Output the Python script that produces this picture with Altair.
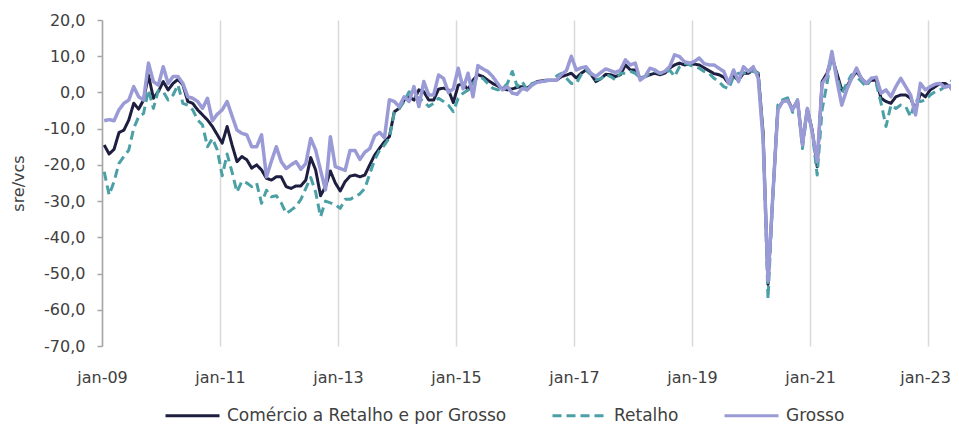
import altair as alt
import pandas as pd

# Monthly series, jan-09 .. jul-23 (sre/vcs)
comercio = [
    -14.5, -17.0, -15.7, -11.1, -10.4, -7.6, -3.0, -4.6, -2.1, 4.8, -1.6, 0.2,
    3.0, 0.7, 2.5, 3.6, 2.1, -2.5, -3.0, -4.8, -6.2, -7.6, -9.4, -11.7,
    -14.0, -9.4, -14.5, -19.1, -17.7, -18.6, -20.9, -20.0, -21.4, -23.7, -24.2, -23.3,
    -23.3, -26.0, -26.5, -25.8, -25.8, -24.2, -18.0, -21.4, -28.5, -26.0, -21.7, -25.0,
    -27.2, -24.6, -23.1, -22.8, -23.3, -22.8, -20.0, -17.3, -15.4, -13.6, -12.2, -5.3,
    -4.4, -2.1, -1.2, -2.1, 0.7, 0.2, -2.1, -2.1, 0.9, 1.2, 0.7, -2.8,
    2.0, 2.5, 0.7, 3.4, 4.9, 4.4, 3.4, 2.5, 1.8, 1.1, 0.7, 1.0,
    1.4, 1.6, 1.2, 2.1, 3.0, 3.2, 3.4, 3.4, 3.4, 4.4, 4.8, 5.3,
    4.0, 5.3, 6.2, 5.0, 3.0, 3.8, 5.0, 4.9, 4.4, 4.9, 7.6, 6.2,
    6.2, 3.9, 4.4, 4.9, 5.3, 4.9, 5.3, 6.7, 7.6, 8.1, 7.6, 7.8,
    7.8, 7.6, 6.8, 6.0, 5.2, 4.9, 4.2, 2.5, 4.4, 3.4, 5.3, 5.3,
    6.2, 5.3, -11.0, -53.0, -28.0, -4.5, -2.5, -2.0, -4.6, -2.3, -14.0, -4.6,
    -10.5, -20.5, 3.0, 5.3, 9.9, 5.3, 0.7, 1.6, 3.9, 5.8, 3.9, 2.5,
    3.4, 3.4, -1.6, -2.5, -3.0, -1.2, -0.7, -0.7, -1.6, -4.8, -0.2, -1.2,
    0.7, 1.6, 2.5, 2.5, 1.6, -0.2, 1.2,
]
retalho = [
    -21.9, -28.3, -24.6, -19.6, -17.7, -15.9, -9.9, -6.7, -5.8, 0.7, -4.4, 0.5,
    0.2, -2.1, -0.7, 2.1, -3.0, -3.5, -4.8, -7.6, -9.0, -15.0, -12.7, -15.9,
    -23.0, -17.0, -22.0, -27.5, -24.5, -25.0, -26.0, -25.0, -30.6, -27.0, -28.8, -28.5,
    -30.5, -33.4, -32.5, -31.5, -29.5, -26.5, -23.5, -27.5, -34.3, -30.0, -30.5, -31.0,
    -32.0, -29.5, -29.5, -28.8, -28.0, -26.5, -22.5, -18.6, -16.0, -14.5, -12.5, -5.5,
    -4.4, -2.5, 0.2, -1.0, -1.6, -2.5, -3.9, -3.0, -1.6, -2.5, -3.5, -5.3,
    -1.6, -0.2, 0.7, 2.5, 4.4, 3.9, 2.5, 1.2, 0.7, 1.0, 2.5, 5.8,
    1.6, 3.0, 0.7, 2.5, 2.8, 3.0, 3.2, 3.4, 4.5, 5.3, 3.9, 2.5,
    2.5, 4.9, 6.2, 5.0, 3.5, 3.8, 5.0, 4.4, 3.4, 5.3, 5.3, 5.8,
    5.3, 3.9, 4.4, 5.3, 5.8, 5.3, 5.3, 6.2, 4.4, 7.1, 8.1, 7.6,
    7.1, 6.7, 5.8, 5.3, 3.9, 3.0, 1.6, 1.0, 4.4, 5.3, 5.3, 5.8,
    5.8, 5.3, -12.0, -57.0, -28.0, -3.5, -2.0, -1.5, -5.5, -2.0, -15.5, -5.0,
    -11.0, -22.8, -4.8, 2.5, 10.4, 4.4, -0.2, 2.5, 4.9, 4.4, 3.0, 1.6,
    3.9, 2.5, -3.0, -9.4, -3.5, -4.4, -3.5, -3.9, -6.7, -2.1, -2.5, -2.1,
    -0.7, 0.2, 0.7, 1.6, 2.5, 4.4, 5.5,
]
grosso = [
    -7.8, -7.5, -7.8, -4.8, -3.0, -2.1, 1.6, -1.2, -2.1, 8.1, 3.0, 2.0,
    7.1, 2.5, 4.4, 4.4, 2.5, -1.2, -1.6, -2.5, -4.4, -1.6, -7.8, -6.0,
    -4.8, -2.5, -6.5, -10.4, -11.3, -11.7, -15.0, -15.0, -11.7, -23.3, -19.0, -15.0,
    -19.1, -21.0, -20.0, -19.1, -21.2, -19.6, -12.7, -15.9, -21.5, -26.9, -12.2, -20.5,
    -21.0, -21.5, -16.0, -16.0, -18.5, -16.5, -15.5, -12.0, -11.0, -12.5, -2.0, -2.5,
    -3.9, -1.2, -2.5, 1.6, -3.9, 3.0, -0.7, -0.7, 4.8, 3.9, 0.0, 1.0,
    6.7, 1.0, 5.3, -1.2, 7.4, 6.5, 5.8, 4.4, 2.5, 0.7, 1.6, -0.2,
    -0.5, 1.1, 0.7, 2.0, 2.8, 3.0, 3.3, 3.4, 3.4, 5.0, 6.0, 10.0,
    6.2, 6.8, 7.1, 5.3, 4.4, 5.5, 6.5, 6.0, 5.5, 6.2, 9.0, 7.6,
    8.1, 3.4, 4.4, 6.7, 6.2, 5.3, 5.8, 7.1, 10.4, 9.9, 8.5, 8.1,
    8.5, 9.5, 8.0, 7.6, 7.6, 6.7, 5.8, 2.5, 6.2, 3.0, 7.1, 5.8,
    7.1, 4.0, -13.0, -52.0, -28.0, -4.8, -2.5, -2.3, -4.8, -2.1, -14.5, -4.4,
    -11.0, -19.0, 2.5, 4.4, 11.3, 3.4, -3.5, 0.7, 3.9, 6.7, 3.9, 2.5,
    3.9, 4.2, -0.2, 0.7, -1.2, 1.6, 3.9, 1.6, -0.7, -6.2, 2.5, 0.7,
    1.6, 2.3, 2.5, 1.4, 1.9, -0.7, -1.3,
]

series_names = ["Comércio a Retalho e por Grosso", "Retalho", "Grosso"]
series_colors = ["#1e1e40", "#4ba0a6", "#9a9ad6"]
series_dash = [[1, 0], [9, 5], [1, 0]]
series_width = [3, 3, 3.5]
x_ticks = [0, 24, 48, 72, 96, 120, 144, 168]
y_ticks = [20, 10, 0, -10, -20, -30, -40, -50, -60, -70]
month_offset = 0.45  # points sit mid-month

rows = []
for name, values in zip(series_names, [comercio, retalho, grosso]):
    for i, v in enumerate(values):
        rows.append({"serie": name, "t": i + month_offset, "valor": v})
df = pd.DataFrame(rows)

FONT = "DejaVu Sans"
PLOT_W = 849
PX_PER_MONTH = 4.917

x = alt.X(
    "t:Q",
    scale=alt.Scale(domain=[0, PLOT_W / PX_PER_MONTH], nice=False, zero=False),
    axis=alt.Axis(
        values=x_ticks, grid=True, gridColor="#d9d9d9", gridWidth=1.5,
        domain=False, ticks=False, tickSize=0, labelPadding=23, labelFlush=False,
        labelOffset={"condition": {"test": "datum.value == 168", "value": -3}, "value": 0},
        labelExpr="'jan-' + (datum.value/12 + 9 < 10 ? '0' : '') + (datum.value/12 + 9)",
        labelFont=FONT, labelFontSize=16, labelColor="#404040", title=None,
    ),
)
y = alt.Y(
    "valor:Q",
    scale=alt.Scale(domain=[-70, 20], nice=False, zero=False),
    axis=alt.Axis(
        values=y_ticks, grid=False, domainColor="#a6a6a6", domainWidth=1.5,
        tickColor="#a6a6a6", tickSize=5, tickWidth=1.5, labelPadding=12,
        labelExpr="datum.value + ',0'", labelFlush=False,
        labelFont=FONT, labelFontSize=16, labelColor="#404040",
        title="sre/vcs", titleFont=FONT, titleFontSize=16, titleFontWeight="normal",
        titleColor="#404040", titleAngle=270, titleX=-84, titleY=163,
        titleAlign="center", titleBaseline="middle",
    ),
)
color = alt.Color("serie:N", scale=alt.Scale(domain=series_names, range=series_colors),
                  legend=alt.Legend(title=None))
dash = alt.StrokeDash("serie:N", scale=alt.Scale(domain=series_names, range=series_dash),
                      legend=alt.Legend(title=None))

layers = []
for name, w in zip(series_names, series_width):
    layers.append(
        alt.Chart(df)
        .transform_filter(alt.datum.serie == name)
        .mark_line(strokeWidth=w, strokeJoin="round", clip=True)
        .encode(x=x, y=y, color=color, strokeDash=dash)
    )

chart = (
    alt.layer(*layers)
    .properties(
        width=PLOT_W, height=326,
        padding={"left": 94, "top": 12, "right": 0, "bottom": 78},
        autosize=alt.AutoSizeParams(type="none"),
        background="white",
    )
    .configure_view(stroke=None)
    .configure_legend(
        orient="none", legendX=62, legendY=367, direction="horizontal",
        symbolType="stroke", symbolSize=2916, symbolStrokeWidth=3,
        labelFont=FONT, labelFontSize=17, labelColor="#404040",
        labelOffset=6, columnPadding=39, padding=0, labelLimit=400,
    )
)

chart.save("out.html", embed_options={"renderer": "svg", "actions": False})
